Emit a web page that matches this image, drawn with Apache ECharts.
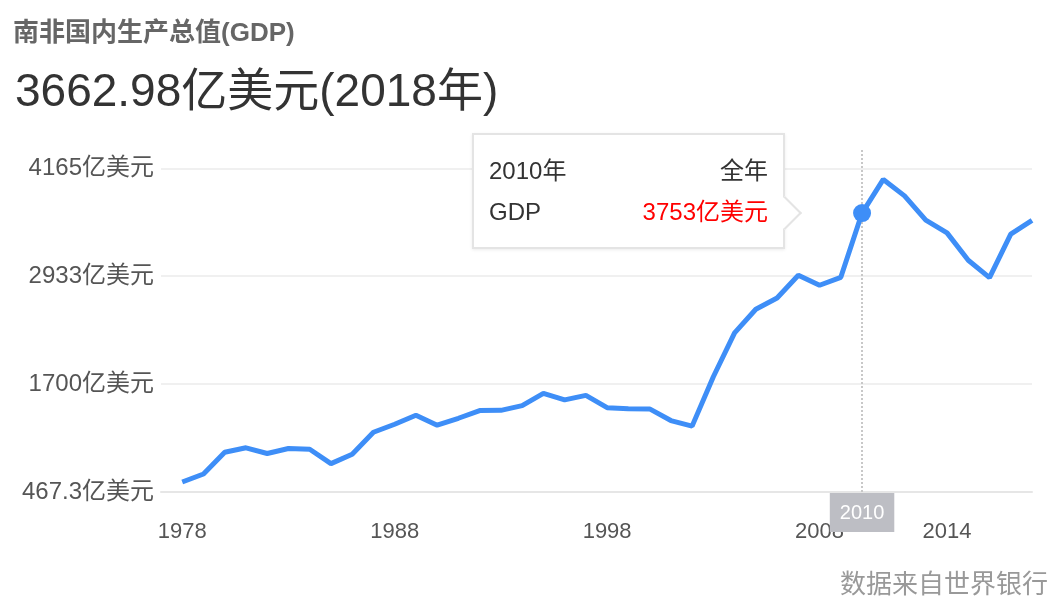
<!DOCTYPE html>
<html>
<head>
<meta charset="utf-8">
<script src="https://cdn.jsdelivr.net/npm/echarts@6/dist/echarts.min.js"></script>
<style>
html,body{margin:0;padding:0;background:#fff;}
#chart{width:1060px;height:613px;}
</style>
</head>
<body>
<div id="chart"></div>
<script>
// ---- data ----
const years = [1978,1979,1980,1981,1982,1983,1984,1985,1986,1987,1988,1989,1990,1991,1992,1993,1994,1995,1996,1997,1998,1999,2000,2001,2002,2003,2004,2005,2006,2007,2008,2009,2010,2011,2012,2013,2014,2015,2016,2017,2018];
const gdp = [467.3,565,830,885,815,876,867,692,806,1075,1173,1283,1161,1246,1340,1343,1400,1550,1470,1526,1375,1362,1360,1218,1150,1753,2290,2578,2716,2994,2871,2968,3753,4164,3963,3668,3511,3176,2964,3496,3663];
const xTickLabels = [1978,1988,1998,2008,2014];
const yTickLabels = ['467.3','1700','2933','4165'];
const highlightYear = 2010;
const unit = '亿美元';

const FONT = "'Liberation Sans', Arial, 'Noto Sans CJK SC', sans-serif";
const Y_MIN = 345, Y_INTERVAL = 1318.5, Y_MAX = 4536;

const chart = echarts.init(document.getElementById('chart'));
const hiIdx = years.indexOf(highlightYear);

const option = {
  animation: false,
  backgroundColor: '#fff',
  textStyle: { fontFamily: FONT },
  title: [
    { text: '南非国内生产总值(GDP)', left: 8, top: 14,
      textStyle: { fontFamily: FONT, fontSize: 26, fontWeight: 'bold', color: '#666', lineHeight: 30 } },
    { text: '3662.98亿美元(2018年)', left: 10, top: 63,
      textStyle: { fontFamily: FONT, fontSize: 46, fontWeight: 'normal', color: '#333', lineHeight: 50 } },
    { text: '数据来自世界银行', right: 7, top: 566,
      textStyle: { fontFamily: FONT, fontSize: 26, fontWeight: 'normal', color: '#999', lineHeight: 30 } }
  ],
  grid: { left: 161, right: 28, top: 149, bottom: 121, containLabel: false },
  xAxis: {
    type: 'value', min: 1977, max: 2018,
    axisLine: { show: true, lineStyle: { color: '#e6e6e6', width: 2 } },
    axisTick: { show: false },
    splitLine: { show: false },
    axisLabel: { customValues: xTickLabels, formatter: v => String(v), color: '#555', fontSize: 22, margin: 29, fontFamily: FONT },
    axisPointer: {
      show: true, value: highlightYear, status: 'show', snap: true, type: 'line', triggerTooltip: false, z: 1,
      lineStyle: { type: 'dotted', color: '#c8c8c8', width: 2 },
      label: { show: true, formatter: p => String(Math.round(p.value)), backgroundColor: '#bdbec4', color: '#fff',
               fontSize: 20, fontFamily: FONT, padding: [10, 10, 9, 10], margin: 1, borderRadius: 0, shadowBlur: 0 }
    }
  },
  yAxis: {
    type: 'value', min: Y_MIN, max: Y_MAX, interval: Y_INTERVAL,
    axisLine: { show: false }, axisTick: { show: false },
    splitLine: { show: true, showMaxLine: false, lineStyle: { color: '#f0f0f0', width: 2 } },
    axisLabel: {
      showMaxLabel: false, color: '#555', fontSize: 24, margin: 7, fontFamily: FONT,
      formatter: v => { const i = Math.round((v - Y_MIN) / Y_INTERVAL); return yTickLabels[i] !== undefined && Math.abs(v - (Y_MIN + i * Y_INTERVAL)) < 1 ? yTickLabels[i] + unit : ''; }
    }
  },
  tooltip: {
    trigger: 'item', triggerOn: 'none', alwaysShowContent: true, transitionDuration: 0,
    padding: 15, borderWidth: 2, borderColor: '#e4e4e4', backgroundColor: '#fff',
    extraCssText: 'box-shadow:0 1px 3px rgba(0,0,0,0.08);border-radius:0;',
    position: (point) => [point[0] - 390, point[1] - 80],
    formatter: (p) => {
      const yr = p.value[0], val = p.value[1];
      return '<div style="position:relative;width:279px;font-family:' + FONT.replace(/'/g, '') + ';font-size:24px;color:#333;line-height:41px;">' +
        '<div style="display:flex;justify-content:space-between;"><span>' + yr + '年</span><span>全年</span></div>' +
        '<div style="display:flex;justify-content:space-between;"><span>GDP</span><span style="color:#ff0000">' + val + unit + '</span></div>' +
        '<div style="position:absolute;right:-29px;top:51px;width:24px;height:24px;box-sizing:border-box;background:#fff;border-top:2px solid #e4e4e4;border-right:2px solid #e4e4e4;transform:rotate(45deg);"></div>' +
        '</div>';
    }
  },
  series: [
    {
      type: 'line', name: 'GDP',
      data: years.map((y, i) => [y, gdp[i]]),
      showSymbol: false, symbol: 'none',
      lineStyle: { color: '#3e8ef7', width: 5 },
      itemStyle: { color: '#3e8ef7' },
      emphasis: { disabled: true },
      silent: true, z: 2
    },
    {
      type: 'scatter', name: 'GDP',
      data: [[highlightYear, gdp[hiIdx]]],
      symbolSize: 18,
      itemStyle: { color: '#3e8ef7', opacity: 1 },
      emphasis: { disabled: true },
      z: 100
    }
  ]
};
chart.setOption(option);
chart.dispatchAction({ type: 'showTip', seriesIndex: 1, dataIndex: 0 });
</script>
</body>
</html>
